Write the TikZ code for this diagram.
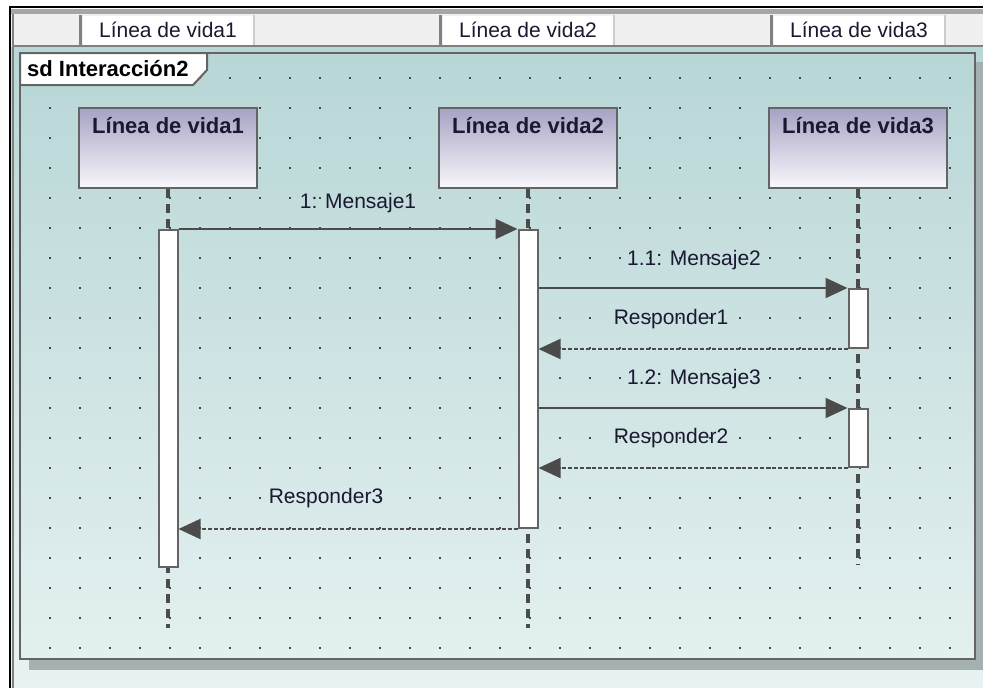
\documentclass[tikz,border=0pt]{standalone}
\usepackage{fontspec}
\setmainfont{Liberation Sans}
\usepackage{xcolor}
\usetikzlibrary{positioning}
\usetikzlibrary{arrows.meta}

\definecolor{areatop}{RGB}{186,215,215}
\definecolor{areabot}{RGB}{232,242,242}
\definecolor{frametop}{RGB}{184,214,214}
\definecolor{framebot}{RGB}{228,240,240}
\definecolor{headtop}{RGB}{166,162,196}
\definecolor{headbot}{RGB}{248,248,252}
\definecolor{edgegray}{RGB}{100,100,100}
\definecolor{msggray}{RGB}{75,75,75}
\definecolor{dotgray}{RGB}{70,70,70}
\definecolor{shadowgray}{RGB}{165,176,176}
\definecolor{barbg}{RGB}{240,240,240}
\definecolor{inkblue}{RGB}{25,25,50}

\newcommand{\msgfont}{\fontsize{21}{25}\selectfont}
\newcommand{\headfont}{\fontsize{22}{26}\selectfont\bfseries}

\tikzset{
    lifehead/.style={draw=edgegray, line width=2pt, top color=headtop, bottom color=headbot,
        minimum width=178pt, minimum height=80pt, inner ysep=5pt,
        text height=20pt, text depth=50pt, font=\headfont, text=inkblue},
    actbar/.style={draw=edgegray, line width=2pt, fill=white, minimum width=19pt, inner sep=0pt},
    lifeline/.style={draw=msggray, line width=3.5pt, dash pattern=on 9pt off 6pt},
    msg/.style={draw=msggray, line width=2pt, -{Triangle[length=22pt,width=20pt]}},
    reply/.style={msg, dash pattern=on 4pt off 2pt},
    msglabel/.style={font=\msgfont, text=inkblue, inner sep=0pt},
    colcell/.style={fill=white, minimum width=170pt, minimum height=29pt, inner sep=0pt,
        font=\msgfont, text=inkblue}
}

\begin{document}
\begin{tikzpicture}[x=1pt, y=-1pt]
    \useasboundingbox (0,0) rectangle (983,688);

    % Window and header bar
    \shade[top color=areatop, bottom color=areabot] (10,47) rectangle (983,688);
    \fill[barbg] (10,9) rectangle (983,46);
    \fill[gray!70] (10,9) rectangle (983,14);
    \draw[black, line width=2pt] (10,688) -- (10,7) -- (983,7);
    \draw[gray, line width=2pt] (13,688) -- (13,14);
    \draw[gray, line width=2pt] (13,46) -- (983,46);
    \node[colcell] (col1) at (168,30) {Línea de vida1};
    \node[colcell] (col2) at (528,30) {Línea de vida2};
    \node[colcell] (col3) at (859,30) {Línea de vida3};
    \foreach \c in {col1,col2,col3} {
        \draw[gray, line width=3pt] ([xshift=-2pt]\c.north west) -- ([xshift=-2pt]\c.south west);
        \draw[gray!40, line width=2pt] ([xshift=1pt]\c.north east) -- ([xshift=1pt]\c.south east);
    }

    % Interaction frame
    \fill[shadowgray] (29,62) rectangle (983,670);
    \shade[top color=frametop, bottom color=framebot, draw=edgegray, line width=2pt]
        (20,53) rectangle (975,659);
    \foreach \i in {0,...,30}
        \foreach \j in {0,...,19}
            \fill[dotgray] (49+30*\i,77+30*\j) rectangle ++(2,2);
    \draw[edgegray, line width=2pt, fill=white]
        (20,53) -- (207,53) -- (207,70) -- (193,85) -- (20,85) -- cycle;
    \node[font=\headfont, text=black, anchor=base west, inner sep=0pt]
        (frametag) at (27,76) {sd Interacción2};

    % Lifelines
    \node[lifehead] (head1) at (168,148) {Línea de vida1};
    \node[lifehead] (head2) at (528,148) {Línea de vida2};
    \node[lifehead] (head3) at (858,148) {Línea de vida3};
    \coordinate (end1) at (168,628);
    \coordinate (end2) at (528,628);
    \coordinate (end3) at (858,565);
    \draw[lifeline] (head1.south) -- (end1);
    \draw[lifeline] (head2.south) -- (end2);
    \draw[lifeline] (head3.south) -- (end3);

    % Activations
    \node[actbar, minimum height=337pt] (act1) at (168,398.5) {};
    \node[actbar, minimum height=298pt] (act2) at (528,379) {};
    \node[actbar, minimum height=59pt] (act3a) at (858,318.5) {};
    \node[actbar, minimum height=58pt] (act3b) at (858,438) {};

    % Messages
    \draw[msg] (act1.north east) -- (act2.north west);
    \node[msglabel] (lbl1) at (358,203) {1: Mensaje1};
    \draw[msg] (act2.east |- act3a.north) -- (act3a.north west);
    \node[msglabel] (lbl2) at (694,260) {1.1: Mensaje2};
    \draw[reply] (act3a.south west) -- (act2.east |- act3a.south);
    \node[msglabel] (lbl3) at (671,319) {Responder1};
    \draw[msg] (act2.east |- act3b.north) -- (act3b.north west);
    \node[msglabel] (lbl4) at (694,379) {1.2: Mensaje3};
    \draw[reply] (act3b.south west) -- (act2.east |- act3b.south);
    \node[msglabel] (lbl5) at (671,438) {Responder2};
    \draw[reply] (act2.south west) -- (act1.east |- act2.south);
    \node[msglabel] (lbl6) at (326,498) {Responder3};
\end{tikzpicture}
\end{document}
